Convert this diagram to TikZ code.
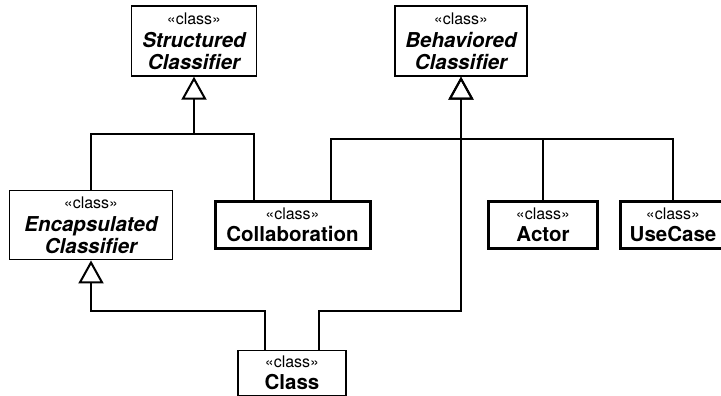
\documentclass[tikz,border=0pt]{standalone}
\usepackage{fontspec}
\setmainfont{TeX Gyre Heros}
\usetikzlibrary{arrows.meta}

\newcommand{\stereo}{{\fontsize{16}{18}\selectfont\mdseries\upshape «class»}}

\begin{document}
\begin{tikzpicture}[x=1pt, y=-1pt,
	classbox/.style={draw, line width=1.4pt, fill=white, align=center, inner sep=0pt,
		font=\fontsize{20.5}{21.5}\selectfont\bfseries},
	activebox/.style={classbox, line width=3pt},
	assoc/.style={line width=1.2pt},
	gen/.style={assoc, -{Triangle[open, width=25pt, length=23pt, line width=2pt]}},
	stub/.style={gen, line width=2.2pt}]
	\clip (0,0) rectangle (721,396);

	% Define the classes
	\node[classbox, minimum width=124.5pt, minimum height=70pt] (struct) at (194,41)
		{\stereo\\[2pt]\itshape Structured\\\itshape Classifier};
	\node[classbox, minimum width=132pt, minimum height=70pt] (behav) at (461,41)
		{\stereo\\[2pt]\itshape Behaviored\\\itshape Classifier};
	\node[classbox, minimum width=163.5pt, minimum height=69.5pt] (encap) at (91,225)
		{\stereo\\[2pt]\itshape Encapsulated\\\itshape Classifier};
	\node[activebox, minimum width=155pt, minimum height=46.5pt] (collab) at (292.5,225)
		{\stereo\\Collaboration};
	\node[activebox, minimum width=109pt, minimum height=46.5pt] (actor) at (543,225)
		{\stereo\\Actor};
	\node[activebox, minimum width=106pt, minimum height=46.5pt] (usecase) at (673,225)
		{\stereo\\UseCase};
	\node[classbox, minimum width=108pt, minimum height=45.5pt] (cls) at (292,373)
		{\stereo\\Class};

	% Junctions of the generalization trees
	\coordinate (sjoin) at (194,134);
	\coordinate (bjoin) at (461,139);

	% Generalizations to StructuredClassifier
	\draw[assoc] (encap.north) |- (sjoin);
	\draw[assoc] (254,0 |- collab.north) |- (sjoin);
	\draw[stub] (sjoin) -- (struct.south);

	% Generalizations to BehavioredClassifier
	\draw[assoc] (331,0 |- collab.north) |- (bjoin);
	\draw[assoc] (actor.north) |- (bjoin);
	\draw[assoc] (usecase.north) |- (bjoin);
	\draw[stub] (bjoin) -- (behav.south);

	% Class specializes both
	\draw[gen] (265,0 |- cls.north) -- (265,311) -| (encap.south);
	\draw[gen] (319,0 |- cls.north) -- (319,311) -| (behav.south);
\end{tikzpicture}
\end{document}
